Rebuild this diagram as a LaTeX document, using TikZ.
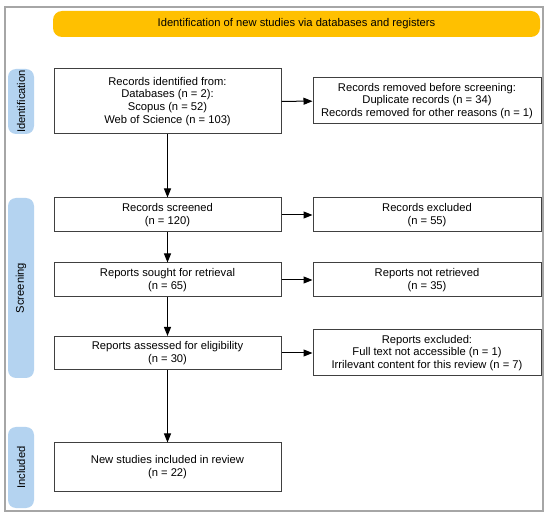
\documentclass[tikz,border=0pt]{standalone}
\usepackage{fontspec}
\setmainfont{Liberation Sans}
\usetikzlibrary{arrows.meta}
\definecolor{boxline}{HTML}{404040}
\definecolor{framegray}{HTML}{A6A6A6}
\definecolor{bannerfill}{HTML}{FFC000}
\definecolor{labelfill}{HTML}{B4D3F0}
\begin{document}
\begin{tikzpicture}[x=1pt,y=-1pt,
  box/.style={draw=boxline, line width=1pt, fill=white, align=center, inner sep=0pt,
    font=\fontsize{11.2}{12.8}\selectfont, minimum width=227pt},
  rbox/.style={box, minimum width=228pt},
  phase/.style={fill=labelfill, rounded corners=8pt, rotate=90, inner sep=0pt,
    minimum height=26pt, font=\fontsize{11.2}{12.8}\selectfont},
  arr/.style={-{Triangle[length=9pt,width=7pt]}, line width=1pt, black}]
\useasboundingbox (0,0) rectangle (550,516);
\fill[white] (0,0) rectangle (550,516);
\draw[framegray, line width=1.3pt] (5,7) rectangle (543,511);
\node[fill=bannerfill, rounded corners=9pt, minimum width=487pt, minimum height=26pt, inner sep=0pt,
  font=\fontsize{11.2}{12.8}\selectfont] (banner) at (296.5,24) {Identification of new studies via databases and registers};
\node[phase, minimum width=65pt] (lid) at (21,101.5) {Identification};
\node[phase, minimum width=180pt] (lscr) at (21,288) {Screening};
\node[phase, minimum width=81pt] (linc) at (21,467.5) {Included};

\node[box, minimum height=65pt] (ident) at (167.5,101.5) {Records identified from:\\Databases (n = 2):\\Scopus (n = 52)\\Web of Science (n = 103)};
\node[rbox, minimum height=46pt] (removed) at (427,101) {Records removed before screening:\\Duplicate records (n = 34)\\Records removed for other reasons (n = 1)};
\node[box, minimum height=34pt] (screened) at (167.5,215) {Records screened\\(n = 120)};
\node[rbox, minimum height=34pt] (excl) at (427,215) {Records excluded\\(n = 55)};
\node[box, minimum height=34pt] (sought) at (167.5,280) {Reports sought for retrieval\\(n = 65)};
\node[rbox, minimum height=34pt] (notret) at (427,280) {Reports not retrieved\\(n = 35)};
\node[box, minimum height=33pt] (assessed) at (167.5,353) {Reports assessed for eligibility\\(n = 30)};
\node[rbox, minimum height=46pt] (repexcl) at (427,353) {Reports excluded:\\Full text not accessible (n = 1)\\Irrilevant content for this review (n = 7)};
\node[box, minimum height=48pt] (incl) at (167.5,467) {New studies included in review\\(n = 22)};

\draw[arr] (ident) -- (removed);
\draw[arr] (ident) -- (screened);
\draw[arr] (screened) -- (excl);
\draw[arr] (screened) -- (sought);
\draw[arr] (sought) -- (notret);
\draw[arr] (sought) -- (assessed);
\draw[arr] (assessed) -- (repexcl);
\draw[arr] (assessed) -- (incl);
\end{tikzpicture}
\end{document}
